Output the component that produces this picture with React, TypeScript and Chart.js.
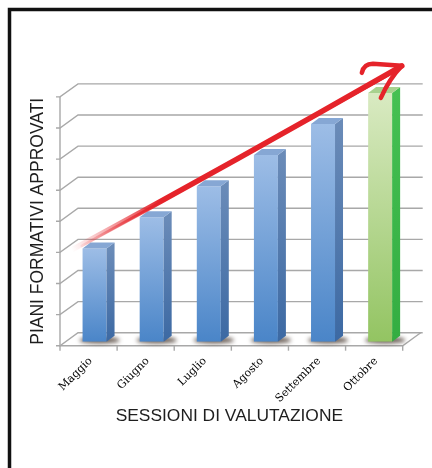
import { useEffect, useRef } from "react";
import { Chart, registerables } from "chart.js";

Chart.register(...registerables);

// ---- data ----
const CATEGORIES = ["Maggio", "Giugno", "Luglio", "Agosto", "Settembre", "Ottobre"];
const PIANI_APPROVATI = [3, 4, 5, 6, 7, 8];
const Y_TICKS = [0, 1, 2, 3, 4, 5, 6, 7, 8];
const HIGHLIGHT_CATEGORY = "Ottobre";
const X_TITLE = "SESSIONI DI VALUTAZIONE";
const Y_TITLE = "PIANI FORMATIVI APPROVATI";
// hand-drawn trend arrow, in [category index, value]
const TREND_FROM = [-0.4, 2.95];
const TREND_TO = [5.38, 8.87];

// ---- style ----
const FRONT_DX = -6, FRONT_DY = 4; // front plane offset from bar plane
const BACK_DX = 12, BACK_DY = -9; // back wall offset from bar plane
const BAR_DX = 8, BAR_DY = -6; // bar depth
const GRID = "#a8a8a8";
const BLUE = { top: "#9dbde6", bottom: "#4a85c8", side: ["#6a8bb8", "#3c69a3"], cap: "#86a7d4" };
const GREEN = { top: "#d9eac2", bottom: "#93c462", side: ["#45c052", "#34ad41"], cap: "#a8d28f" };
const RED = "229,35,42";

const palette = (i: number) => (CATEGORIES[i] === HIGHLIGHT_CATEGORY ? GREEN : BLUE);

const threeD = {
  id: "threeD",
  beforeDatasetsDraw(chart: any) {
    const { ctx, chartArea: ca, scales } = chart;
    const y = scales.y;
    const n = CATEGORIES.length;
    ctx.save();
    // page frame
    ctx.strokeStyle = "#111";
    ctx.lineWidth = 3.5;
    ctx.beginPath();
    ctx.moveTo(9.5, chart.height);
    ctx.lineTo(9.5, 9.5);
    ctx.lineTo(chart.width, 9.5);
    ctx.stroke();

    const fx0 = ca.left + FRONT_DX, fx1 = ca.right + FRONT_DX;
    const bx0 = ca.left + BACK_DX, bx1 = ca.right + BACK_DX;
    ctx.strokeStyle = GRID;
    ctx.lineWidth = 1.4;
    for (const v of Y_TICKS) {
      const py = y.getPixelForValue(v);
      ctx.beginPath();
      ctx.moveTo(fx0 - 4, py + FRONT_DY);
      ctx.lineTo(fx0, py + FRONT_DY);
      ctx.lineTo(bx0, py + BACK_DY);
      ctx.lineTo(bx1 + 2, py + BACK_DY);
      ctx.stroke();
    }
    const top = y.getPixelForValue(Y_TICKS[Y_TICKS.length - 1]);
    const base = y.getPixelForValue(0);
    ctx.beginPath();
    ctx.moveTo(fx0, top + FRONT_DY);
    ctx.lineTo(fx0, base + FRONT_DY);
    ctx.lineTo(fx1, base + FRONT_DY);
    ctx.lineTo(bx1, base + BACK_DY);
    ctx.stroke();
    for (let i = 0; i <= n; i++) {
      const px = fx0 + (i * (fx1 - fx0)) / n;
      ctx.beginPath();
      ctx.moveTo(px, base + FRONT_DY);
      ctx.lineTo(px, base + FRONT_DY + 5);
      ctx.stroke();
    }
    // shadows on floor
    const meta = chart.getDatasetMeta(0);
    ctx.filter = "blur(2px)";
    ctx.fillStyle = "rgba(70,55,45,0.8)";
    meta.data.forEach((bar: any) => {
      const w = bar.width;
      ctx.beginPath();
      ctx.ellipse(bar.x + 5, bar.base - 1.5, w / 2 + 8, 3.4, 0, 0, Math.PI * 2);
      ctx.fill();
    });
    ctx.filter = "none";
    ctx.restore();
  },
  afterDatasetsDraw(chart: any) {
    const { ctx, scales } = chart;
    const meta = chart.getDatasetMeta(0);
    ctx.save();
    meta.data.forEach((bar: any, i: number) => {
      const p = palette(i);
      const l = bar.x - bar.width / 2, r = bar.x + bar.width / 2;
      const t = bar.y, b = bar.base;
      // side face
      const g = ctx.createLinearGradient(0, t, 0, b);
      g.addColorStop(0, p.side[0]);
      g.addColorStop(1, p.side[1]);
      ctx.fillStyle = g;
      ctx.beginPath();
      ctx.moveTo(r, t);
      ctx.lineTo(r + BAR_DX, t + BAR_DY);
      ctx.lineTo(r + BAR_DX, b + BAR_DY);
      ctx.lineTo(r, b);
      ctx.closePath();
      ctx.fill();
      // top face
      ctx.fillStyle = p.cap;
      ctx.beginPath();
      ctx.moveTo(l, t);
      ctx.lineTo(l + BAR_DX, t + BAR_DY);
      ctx.lineTo(r + BAR_DX, t + BAR_DY);
      ctx.lineTo(r, t);
      ctx.closePath();
      ctx.fill();
    });

    // trend arrow
    const x = scales.x, y = scales.y;
    const p0 = { x: x.getPixelForValue(TREND_FROM[0]), y: y.getPixelForValue(TREND_FROM[1]) };
    const p1 = { x: x.getPixelForValue(TREND_TO[0]), y: y.getPixelForValue(TREND_TO[1]) };
    const grad = ctx.createLinearGradient(p0.x, p0.y, p1.x, p1.y);
    grad.addColorStop(0, `rgba(${RED},0)`);
    grad.addColorStop(0.1, `rgba(${RED},0.35)`);
    grad.addColorStop(0.27, `rgba(${RED},1)`);
    grad.addColorStop(1, `rgba(${RED},1)`);
    ctx.lineCap = "round";
    ctx.lineJoin = "round";
    ctx.strokeStyle = grad;
    ctx.lineWidth = 5.5;
    ctx.beginPath();
    ctx.moveTo(p0.x, p0.y);
    ctx.quadraticCurveTo((p0.x + p1.x) / 2 + 1, (p0.y + p1.y) / 2 + 2, p1.x, p1.y);
    ctx.stroke();
    ctx.lineWidth = 2.5;
    ctx.beginPath();
    ctx.moveTo(p0.x + 10, p0.y - 4);
    ctx.lineTo(p1.x - 2, p1.y + 3);
    ctx.stroke();
    ctx.strokeStyle = `rgb(${RED})`;
    ctx.lineWidth = 4.5;
    ctx.beginPath();
    ctx.moveTo(p1.x - 40, p1.y + 7);
    ctx.quadraticCurveTo(p1.x - 38, p1.y - 2, p1.x - 29, p1.y - 2);
    ctx.lineTo(p1.x, p1.y);
    ctx.quadraticCurveTo(p1.x - 12, p1.y + 12, p1.x - 21, p1.y + 32);
    ctx.stroke();
    ctx.restore();
  },
  afterDraw(chart: any) {
    const { ctx, chartArea: ca, scales } = chart;
    const y = scales.y;
    const top = y.getPixelForValue(Y_TICKS[Y_TICKS.length - 1]) + FRONT_DY;
    const base = y.getPixelForValue(0) + FRONT_DY;
    ctx.save();
    ctx.fillStyle = "#1e1e1e";
    ctx.textAlign = "center";
    ctx.textBaseline = "middle";
    ctx.font = '17.4px "Liberation Sans", Arial, sans-serif';
    ctx.fillText(X_TITLE, (ca.left + ca.right) / 2 + FRONT_DX - 2, base + 71);
    ctx.translate(38, (top + base) / 2);
    ctx.rotate(-Math.PI / 2);
    ctx.font = '17.5px "Liberation Sans", Arial, sans-serif';
    ctx.fillText(Y_TITLE, 0, 0);
    ctx.restore();
  },
};

export default function App() {
  const ref = useRef<HTMLCanvasElement | null>(null);
  useEffect(() => {
    if (!ref.current) return;
    const chart = new Chart(ref.current, {
      type: "bar",
      data: {
        labels: CATEGORIES,
        datasets: [
          {
            data: PIANI_APPROVATI,
            barPercentage: 0.42,
            categoryPercentage: 1,
            borderWidth: 0,
            backgroundColor: (c: any) => {
              const ch = c.chart;
              const p = palette(c.dataIndex);
              if (!ch.chartArea || !ch.scales.y) return p.bottom;
              const ys = ch.scales.y;
              const t = ys.getPixelForValue(PIANI_APPROVATI[c.dataIndex]);
              const b = ys.getPixelForValue(0);
              const g = ch.ctx.createLinearGradient(0, t, 0, b);
              g.addColorStop(0, p.top);
              g.addColorStop(1, p.bottom);
              return g;
            },
          },
        ],
      },
      options: {
        responsive: false,
        animation: false,
        devicePixelRatio: 1,
        layout: { padding: { left: 66, right: 23.3, top: 92.9, bottom: 0 } },
        plugins: { legend: { display: false }, tooltip: { enabled: false } },
        scales: {
          x: {
            grid: { display: false, drawTicks: false },
            border: { display: false },
            ticks: {
              minRotation: 45,
              maxRotation: 45,
              padding: 13,
              labelOffset: -4,
              color: "#000",
              font: { family: '"DejaVu Serif", serif', size: 11 },
            },
            afterFit: (s: any) => {
              s.height = 126.3;
            },
          },
          y: {
            display: false,
            min: 0,
            max: 8,
            ticks: { stepSize: 1 },
          },
        },
      },
      plugins: [threeD],
    });
    return () => chart.destroy();
  }, []);
  return (
    <div style={{ position: "absolute", left: 0, top: 0, width: 432, height: 468, background: "#fff" }}>
      <canvas ref={ref} width={432} height={468} style={{ display: "block" }} />
    </div>
  );
}
